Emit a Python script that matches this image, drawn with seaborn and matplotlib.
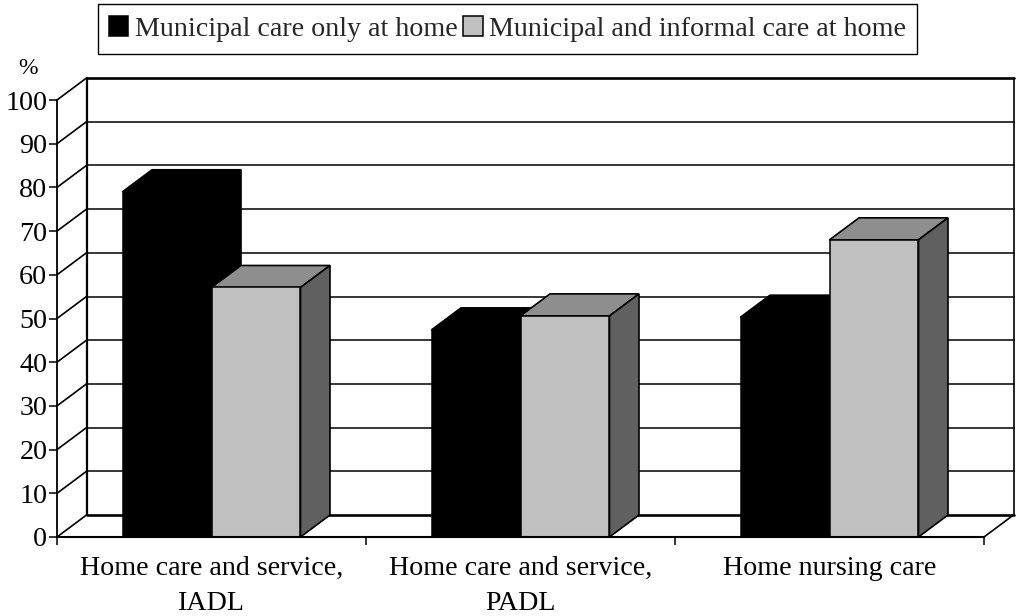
import matplotlib
matplotlib.use("Agg")
import matplotlib.pyplot as plt
from matplotlib.patches import Polygon
import pandas as pd
import seaborn as sns

categories = ["Home care and service,\nIADL", "Home care and service,\nPADL", "Home nursing care"]
series_names = ["Municipal care only at home", "Municipal and informal care at home"]
municipal_only = [79, 47.4, 50.3]
municipal_informal = [57.1, 50.6, 68]
y_ticks = [0, 10, 20, 30, 40, 50, 60, 70, 80, 90, 100]

front_colors = ["#000000", "#c0c0c0"]
top_colors = ["#000000", "#8e8e8e"]
side_colors = ["#000000", "#606060"]

df = pd.DataFrame({
    "category": categories * 2,
    "series": [series_names[0]] * 3 + [series_names[1]] * 3,
    "value": municipal_only + municipal_informal,
})

sns.set_theme(style="white")
plt.rcParams["font.family"] = ["Liberation Serif", "DejaVu Serif"]

W, H = 1017, 616
fig = plt.figure(figsize=(W / 100, H / 100), dpi=100)
# front plane of the fake 3d box, in pixels: x 57-984, y 100-537
ax = fig.add_axes([57 / W, 1 - 537 / H, 927 / W, 437 / H])

sns.barplot(data=df, x="category", y="value", hue="series", hue_order=series_names,
            order=categories, palette=front_colors, width=0.576, gap=0,
            edgecolor="black", linewidth=1.1, saturation=1, ax=ax, zorder=3)
ax.set_xlim(-0.5, 2.5)
ax.set_ylim(0, 100)

# depth of the box in data units (29.5 px across, 22 px up)
dx = 29.5 / 309
dy = 22 / 4.37

# back wall and the little diagonals
for v in y_ticks:
    lw = 1.9 if v in (0, 100) else 1.1
    ax.plot([-0.5 + dx, 2.5 + dx], [v + dy, v + dy], color="black", lw=lw, zorder=1, clip_on=False)
    ax.plot([-0.5, -0.5 + dx], [v, v + dy], color="black", lw=1.2, zorder=1, clip_on=False)
ax.plot([-0.5 + dx, -0.5 + dx], [dy, 100 + dy], color="black", lw=1.6, zorder=1, clip_on=False)
ax.plot([2.5 + dx, 2.5 + dx], [dy, 100 + dy], color="black", lw=1.2, zorder=1, clip_on=False)
ax.plot([2.5, 2.5 + dx], [0, dy], color="black", lw=1.2, zorder=1, clip_on=False)

# top and side faces for each bar
for i, container in enumerate(ax.containers):
    for bar in container:
        x0 = bar.get_x()
        x1 = x0 + bar.get_width()
        h = bar.get_height()
        bar.set_zorder(3 + 2 * i)
        ax.add_patch(Polygon([(x0, h), (x1, h), (x1 + dx, h + dy), (x0 + dx, h + dy)],
                             facecolor=top_colors[i], edgecolor="black", lw=1.2,
                             zorder=2.5 + 2 * i, clip_on=False))
        ax.add_patch(Polygon([(x1, 0), (x1, h), (x1 + dx, h + dy), (x1 + dx, dy)],
                             facecolor=side_colors[i], edgecolor="black", lw=1.2,
                             zorder=2.5 + 2 * i, clip_on=False))

sns.despine(ax=ax)
ax.spines["left"].set_linewidth(1.3)
ax.spines["bottom"].set_linewidth(1.5)
ax.spines["left"].set_color("black")
ax.spines["bottom"].set_color("black")
ax.spines["bottom"].set_zorder(10)

ax.set_xlabel("")
ax.set_ylabel("")
ax.set_yticks(y_ticks)
ax.tick_params(axis="y", length=5.5, width=1.1, color="black", labelsize=20.2, pad=1.5, labelcolor="black", left=True)
ax.set_xticks([-0.5, 0.5, 1.5, 2.5], minor=True)
ax.tick_params(axis="x", which="minor", length=5.5, width=1.1, color="black", bottom=True)
ax.tick_params(axis="x", which="major", length=0, pad=13.5, labelsize=20.2, labelcolor="black")
for lab in ax.get_xticklabels():
    lab.set_linespacing(1.55)

fig.text(28 / W, 1 - 68 / H, "%", fontsize=17, ha="center", va="center", color="black")

handles, labels = ax.get_legend_handles_labels()
ax.legend_.remove()
fig.legend(handles, labels, ncol=2, loc="center", bbox_to_anchor=(507.5 / W, 1 - 29 / H),
           fontsize=20.2, frameon=True, fancybox=False, framealpha=1, edgecolor="black",
           handlelength=0.68, handleheight=0.68, handletextpad=0.22, columnspacing=0.22,
           borderpad=0.42, borderaxespad=0)

fig.savefig("out.png", dpi=100)
